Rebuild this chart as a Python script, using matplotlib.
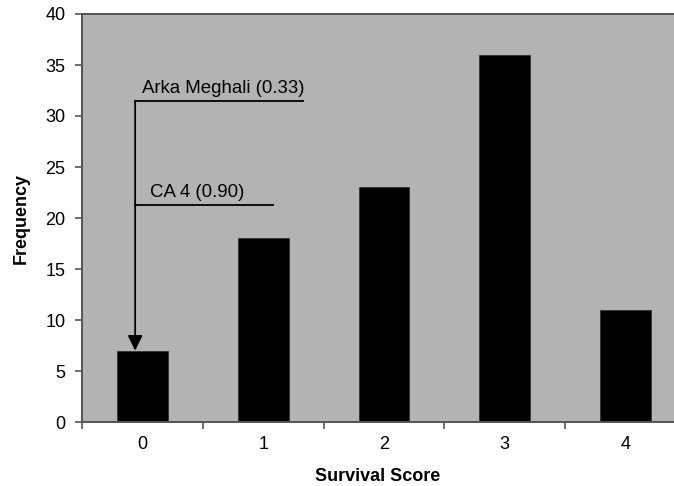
import matplotlib
matplotlib.use("Agg")
import matplotlib.pyplot as plt
from matplotlib.ticker import FixedLocator

plt.rcParams['font.family'] = ['Liberation Sans', 'DejaVu Sans']

scores = [0, 1, 2, 3, 4]
frequency = [7, 18, 23, 36, 11]
score_labels = ["0", "1", "2", "3", "4"]
yticks = [0, 5, 10, 15, 20, 25, 30, 35, 40]

arka_label = "Arka Meghali (0.33)"
arka_level = 31.5
ca4_label = "CA 4 (0.90)"
ca4_level = 21.3
arrow_x = -0.06
arrow_target = 7

fig = plt.figure(figsize=(6.74, 4.86), dpi=100)
W, H = 674, 486
left, right, top, bottom = 82, 686, 14, 422
ax = fig.add_axes([left / W, 1 - bottom / H, (right - left) / W, (bottom - top) / H])
ax.set_facecolor('#b3b3b3')

ax.bar(scores, frequency, width=0.42, color='black', edgecolor='#333333', linewidth=0.6, zorder=2)

ax.set_xlim(-0.5, 4.5)
ax.set_ylim(0, 40)
ax.set_yticks(yticks)
ax.set_yticklabels([str(v) for v in yticks], fontsize=13)
ax.set_xticks(scores)
ax.set_xticklabels(score_labels, fontsize=13)
ax.tick_params(axis='x', which='major', length=0, pad=10)
ax.xaxis.set_minor_locator(FixedLocator([-0.5, 0.5, 1.5, 2.5, 3.5, 4.5]))
ax.tick_params(axis='x', which='minor', length=5, width=1.2, color='#555555', direction='out')
ax.tick_params(axis='y', length=5, width=1.2, color='#555555', direction='out', pad=7)

for s in ['left', 'bottom', 'top']:
    ax.spines[s].set_color('#555555')
    ax.spines[s].set_linewidth(1.4)
ax.spines['right'].set_visible(False)

ax.set_xlabel("Survival Score", fontsize=13, fontweight='bold')
ax.set_ylabel("Frequency", fontsize=13, fontweight='bold')
ax.xaxis.set_label_coords((378 - left) / (right - left), -(476 - bottom) / (bottom - top))
ax.xaxis.label.set_va('center')
ax.yaxis.set_label_coords(-(82 - 21) / (right - left), 0.5)
ax.yaxis.label.set_va('center')

# annotation lines
ax.plot([arrow_x, 1.33], [arka_level, arka_level], color='black', lw=1.3, zorder=3)
ax.plot([arrow_x, 1.08], [ca4_level, ca4_level], color='black', lw=1.3, zorder=3)
ax.annotate("", xy=(arrow_x, arrow_target), xytext=(arrow_x, arka_level),
            arrowprops=dict(arrowstyle='-|>,head_length=0.65,head_width=0.32', color='black', lw=1.3,
                            mutation_scale=14, shrinkA=0, shrinkB=0), zorder=3)
ax.text(0.0, arka_level + 0.35, arka_label, fontsize=13.4, ha='left', va='bottom')
ax.text(0.06, ca4_level + 0.35, ca4_label, fontsize=13.4, ha='left', va='bottom')

fig.savefig("out.png", dpi=100)
